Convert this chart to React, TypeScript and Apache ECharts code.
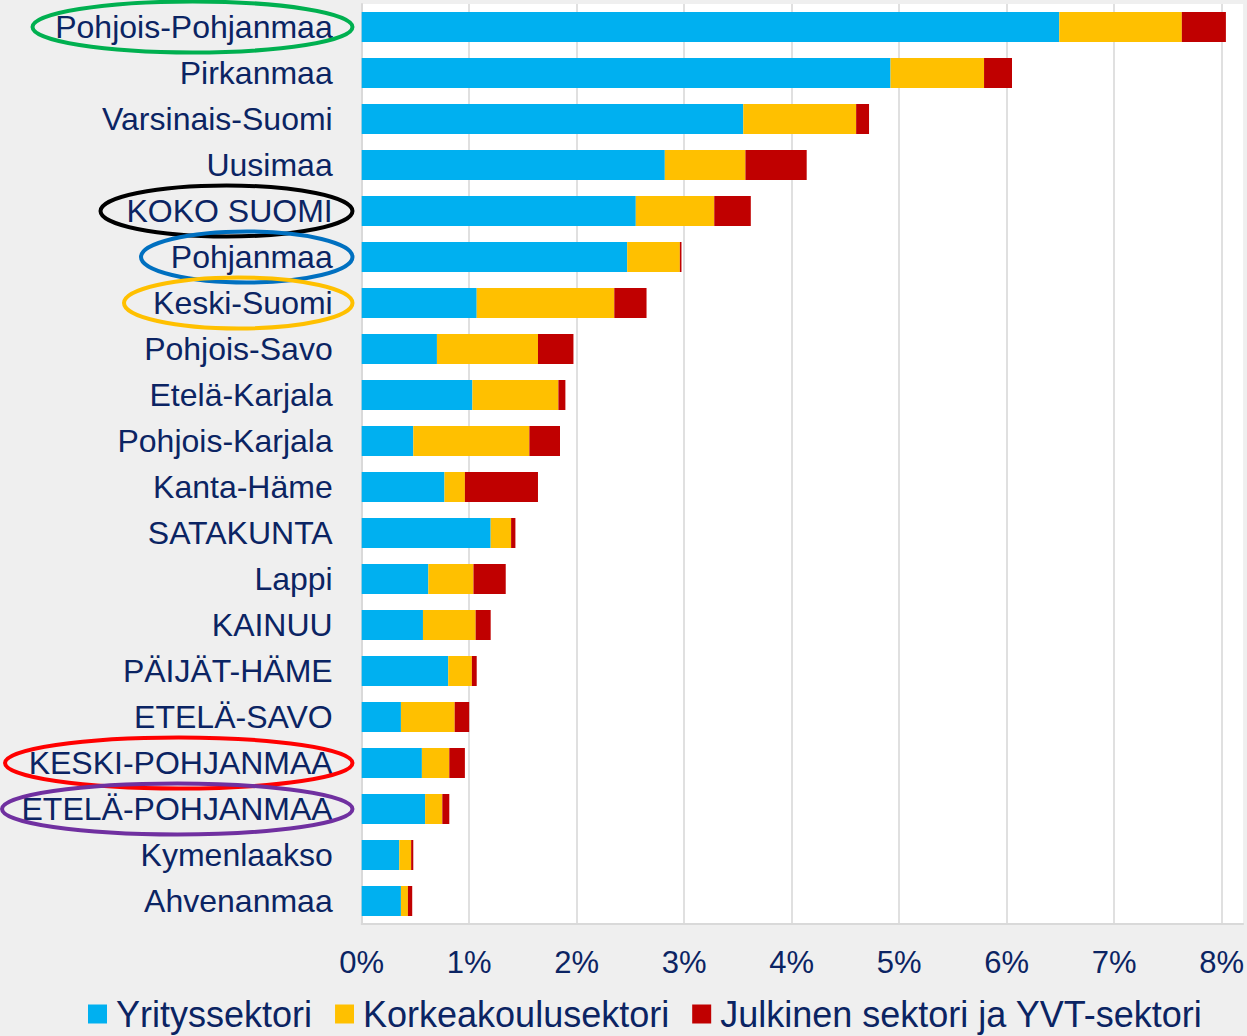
import React, { useEffect, useRef } from "react";
import * as echarts from "echarts";

// ---- Data (percent) ----
const categories = [
  "Pohjois-Pohjanmaa",
  "Pirkanmaa",
  "Varsinais-Suomi",
  "Uusimaa",
  "KOKO SUOMI",
  "Pohjanmaa",
  "Keski-Suomi",
  "Pohjois-Savo",
  "Etelä-Karjala",
  "Pohjois-Karjala",
  "Kanta-Häme",
  "SATAKUNTA",
  "Lappi",
  "KAINUU",
  "PÄIJÄT-HÄME",
  "ETELÄ-SAVO",
  "KESKI-POHJANMAA",
  "ETELÄ-POHJANMAA",
  "Kymenlaakso",
  "Ahvenanmaa",
];

const seriesNames = [
  "Yrityssektori",
  "Korkeakoulusektori",
  "Julkinen sektori ja YVT-sektori",
];

const yritys = [
  6.49, 4.92, 3.55, 2.82, 2.55, 2.47, 1.07, 0.7, 1.03, 0.48,
  0.77, 1.2, 0.62, 0.57, 0.805, 0.365, 0.56, 0.59, 0.35, 0.365,
];
const korkeakoulu = [
  1.14, 0.87, 1.05, 0.75, 0.73, 0.49, 1.28, 0.94, 0.8, 1.08,
  0.19, 0.19, 0.42, 0.49, 0.22, 0.5, 0.255, 0.16, 0.11, 0.065,
];
const julkinen = [
  0.41, 0.26, 0.12, 0.57, 0.34, 0.015, 0.3, 0.33, 0.065, 0.285,
  0.68, 0.04, 0.3, 0.14, 0.045, 0.135, 0.145, 0.065, 0.02, 0.04,
];

// axis: ticks every 1 % from 0 to 8 %, plot area extends a little past 8 %
const xMin = 0;
const xMaxTick = 8;
const xExtent = 8.2;

// ---- Annotation ellipses around selected labels ----
const highlightNames = [
  "Pohjois-Pohjanmaa",
  "KOKO SUOMI",
  "Pohjanmaa",
  "Keski-Suomi",
  "KESKI-POHJANMAA",
  "ETELÄ-POHJANMAA",
];
const highlightColors = ["#00b050", "#000000", "#0070c0", "#ffc000", "#ff0000", "#7030a0"];
const highlightLeft = [32.5, 100.5, 141, 124, 5, 2];

// ---- Styles ----
const W = 1247;
const H = 1036;
const TEXT = "#0b2463";
const COLORS = ["#00b0f0", "#ffc000", "#c00000"];
const GRID_LEFT = 361.7;
const GRID_TOP = 4;
const GRID_H = 920;
const PX_PER_UNIT = 107.6;
const GRID_RIGHT = W - (GRID_LEFT + PX_PER_UNIT * xExtent);
const FONT = "'Liberation Sans', Arial, sans-serif";

export default function App() {
  const ref = useRef<HTMLDivElement>(null);

  useEffect(() => {
    document.body.style.margin = "0";
    document.body.style.overflow = "hidden";
    if (!ref.current) return;
    const chart = echarts.init(ref.current, undefined, { renderer: "svg" });

    const band = GRID_H / categories.length;
    const ellipses = highlightNames.map((name, i) => {
      const idx = categories.indexOf(name);
      const left = highlightLeft[i];
      const right = 352.5;
      return {
        type: "ellipse",
        z: 100,
        silent: true,
        shape: {
          cx: (left + right) / 2,
          cy: GRID_TOP + (idx + 0.5) * band,
          rx: (right - left) / 2,
          ry: 25.5,
        },
        style: { fill: "none", stroke: highlightColors[i], lineWidth: 4 },
      };
    });

    const data = [yritys, korkeakoulu, julkinen];
    const splitColors: string[] = [];
    for (let v = xMin; v <= xMaxTick; v++) splitColors.push("#d9d9d9");
    splitColors.push("rgba(0,0,0,0)");

    chart.setOption({
      animation: false,
      backgroundColor: "#efefef",
      textStyle: { fontFamily: FONT },
      graphic: ellipses,
      grid: {
        left: GRID_LEFT,
        top: GRID_TOP,
        height: GRID_H,
        right: GRID_RIGHT,
        show: true,
        backgroundColor: "#ffffff",
        borderWidth: 0,
        containLabel: false,
      },
      legend: {
        data: seriesNames,
        left: 83,
        top: 991,
        icon: "rect",
        itemWidth: 19,
        itemHeight: 19,
        itemGap: 23,
        textStyle: { color: TEXT, fontSize: 36, fontFamily: FONT, padding: [0, 0, 0, 4] },
      },
      xAxis: {
        type: "value",
        min: xMin,
        max: xExtent,
        interval: 1,
        axisLine: { show: true, lineStyle: { color: "#d9d9d9", width: 2 } },
        axisTick: { show: false },
        splitLine: { show: true, lineStyle: { color: splitColors, width: 1.6 } },
        axisLabel: {
          color: TEXT,
          fontSize: 31,
          fontFamily: FONT,
          margin: 23,
          showMaxLabel: false,
          formatter: (v: number) => (Number.isInteger(v) && v <= xMaxTick ? `${v}%` : ""),
        },
      },
      yAxis: {
        type: "category",
        inverse: true,
        data: categories,
        axisLine: { show: true, lineStyle: { color: "#d9d9d9", width: 2 } },
        axisTick: { show: false },
        splitLine: { show: false },
        axisLabel: {
          color: TEXT,
          fontSize: 32,
          fontFamily: FONT,
          margin: 29,
        },
      },
      series: seriesNames.map((name, i) => ({
        name,
        type: "bar",
        stack: "total",
        barWidth: 30,
        itemStyle: { color: COLORS[i] },
        data: data[i],
      })),
    });

    return () => {
      chart.dispose();
    };
  }, []);

  return <div ref={ref} style={{ width: W, height: H }} />;
}
